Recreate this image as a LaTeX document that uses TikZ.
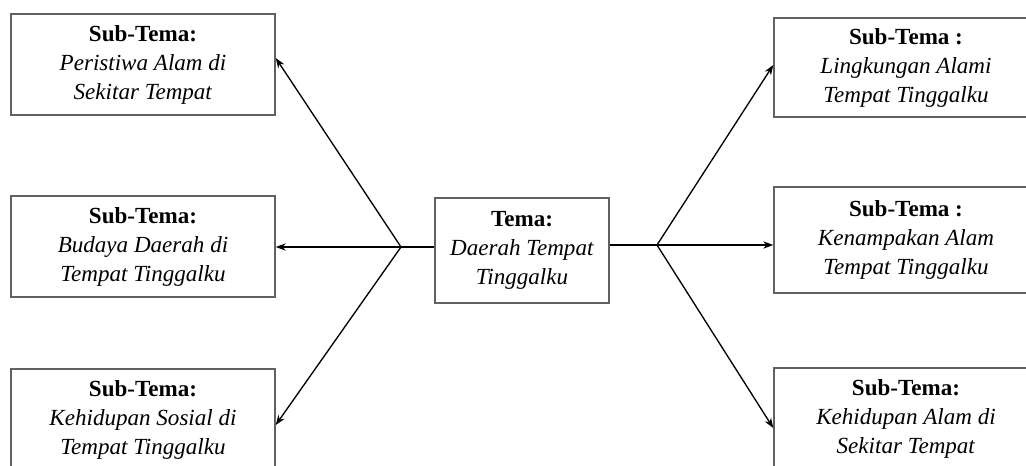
\documentclass[tikz,border=0pt]{standalone}
\usepackage{fontspec}
\setmainfont{Liberation Serif}
\usetikzlibrary{arrows.meta,calc}
\begin{document}
\begin{tikzpicture}[x=0.75pt,y=-0.75pt,
  box/.style={draw=black!62,line width=1.1pt,rectangle,inner sep=0pt,align=center,
    font=\fontsize{17.3}{21.75}\selectfont,fill=white},
  conn/.style={line width=1pt,draw=black},
  arr/.style={conn,-{Stealth[length=7.5pt,width=5.5pt]}}]
\useasboundingbox (0,0) rectangle (1026,465);
\clip (0,0) rectangle (1026,465);
\fill[white] (0,0) rectangle (1026,465);
% left boxes
\node[box,minimum width=198pt,minimum height=75.75pt] (tl) at (143,64.5)
  {\textbf{Sub-Tema:}\\\textit{Peristiwa Alam di}\\\textit{Sekitar Tempat}};
\node[box,minimum width=198pt,minimum height=75.75pt] (ml) at (143,246.5)
  {\textbf{Sub-Tema:}\\\textit{Budaya Daerah di}\\\textit{Tempat Tinggalku}};
\node[box,minimum width=198pt,minimum height=75.75pt] (bl) at (143,419.5)
  {\textbf{Sub-Tema:}\\\textit{Kehidupan Sosial di}\\\textit{Tempat Tinggalku}};
% center
\node[box,minimum width=130.5pt,minimum height=78.75pt] (c) at (522,250.5)
  {\textbf{Tema:}\\\textit{Daerah Tempat}\\\textit{Tinggalku}};
% right boxes
\node[box,minimum width=198pt,minimum height=74.25pt] (tr) at (906,67.5)
  {\textbf{Sub-Tema :}\\\textit{Lingkungan Alami}\\\textit{Tempat Tinggalku}};
\node[box,minimum width=198pt,minimum height=79.5pt] (mr) at (906,240)
  {\textbf{Sub-Tema :}\\\textit{Kenampakan Alam}\\\textit{Tempat Tinggalku}};
\node[box,minimum width=198pt,minimum height=75.75pt] (br) at (906,418.5)
  {\textbf{Sub-Tema:}\\\textit{Kehidupan Alam di}\\\textit{Sekitar Tempat}};
% hubs
\coordinate (hubL) at (401,247);
\coordinate (hubR) at (657,245);
\draw[conn] (c.west |- hubL) -- (hubL);
\draw[conn] (c.east |- hubR) -- (hubR);
\draw[arr] (hubL) -- ($(tl.east)+(0,-6.5)$);
\draw[arr] (hubL) -- (ml.east |- hubL);
\draw[arr] (hubL) -- ($(bl.east)+(0,5.5)$);
\draw[arr] (hubR) -- ($(tr.west)+(0,-2.5)$);
\draw[arr] (hubR) -- (mr.west |- hubR);
\draw[arr] (hubR) -- ($(br.west)+(0,9.5)$);
\end{tikzpicture}
\end{document}
